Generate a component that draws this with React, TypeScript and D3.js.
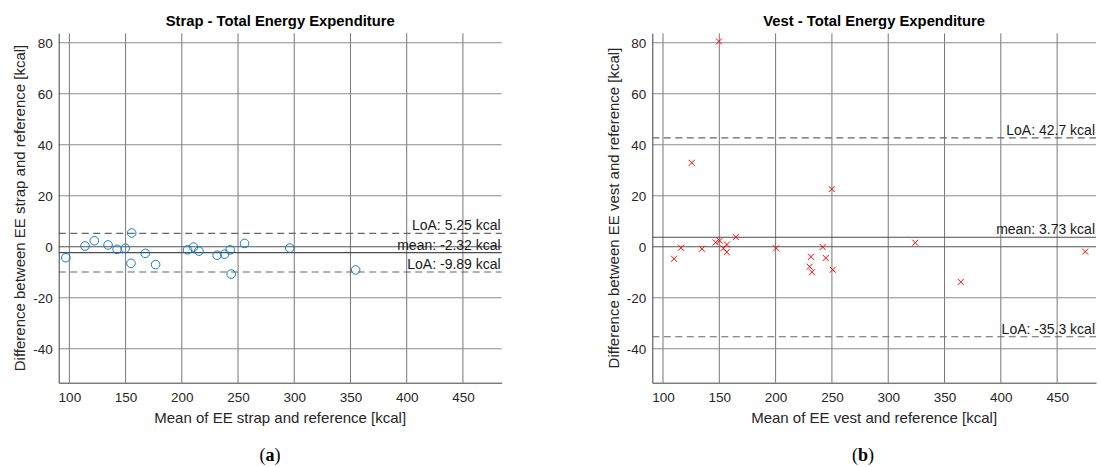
import React, { useEffect, useRef } from "react";
import * as d3 from "d3";

// mean of the two methods (x) and their difference (y)
const strapMean = [96.8, 113.9, 122.2, 134.4, 142.4, 149.7, 155.4, 154.8, 167.5, 176.7, 205.1, 210.4, 215.2, 231.4, 238.0, 243.0, 243.9, 255.8, 296.0, 354.6];
const strapDiff = [-4.3, 0.3, 2.35, 0.7, -1.0, -0.6, 5.4, -6.5, -2.6, -7.0, -1.2, -0.1, -1.7, -3.3, -2.9, -1.2, -10.7, 1.3, -0.5, -9.1];

const vestMean = [109.8, 116.0, 125.5, 134.6, 146.8, 150.3, 149.7, 153.6, 156.8, 156.6, 164.6, 200.4, 231.4, 230.3, 232.3, 241.8, 244.5, 249.8, 250.7, 324.0, 364.4, 474.9];
const vestDiff = [-4.7, -0.4, 32.9, -0.8, 1.7, 2.35, 80.5, -0.6, 0.9, -2.1, 3.8, -0.6, -3.9, -7.8, -10.0, -0.1, -4.4, 22.6, -9.0, 1.6, -13.8, -1.9];

const strapBias = -2.32;
const strapLoA = [5.25, -9.89];
const vestBias = 3.73;
const vestLoA = [42.7, -35.3];

const xTicks = [100, 150, 200, 250, 300, 350, 400, 450];
const yTicks = [-40, -20, 0, 20, 40, 60, 80];

const titles = ["Strap - Total Energy Expenditure", "Vest - Total Energy Expenditure"];
const xLabels = ["Mean of EE strap and reference [kcal]", "Mean of EE vest and reference [kcal]"];
const yLabels = ["Difference between EE strap and reference [kcal]", "Difference between EE vest and reference [kcal]"];

const FONT = "'Liberation Sans', Arial, Helvetica, sans-serif";
const TEXT = "#262626";

function drawPanel(
    root: d3.Selection<SVGSVGElement, unknown, null, undefined>,
    left: number,
    right: number,
    means: number[],
    diffs: number[],
    bias: number,
    loa: number[],
    idx: number,
    marker: "circle" | "cross"
) {
    const top = 33.3;
    const bottom = 382.7;

    const xScale = d3.scaleLinear().domain([90.5, 484.5]).range([left, right]);
    const yScale = d3.scaleLinear().domain([-53.3, 83.7]).range([bottom, top]);

    const g = root.append("g");

    // grid
    g.selectAll(".vgrid")
        .data(xTicks)
        .enter()
        .append("line")
        .attr("x1", d => xScale(d))
        .attr("x2", d => xScale(d))
        .attr("y1", top)
        .attr("y2", bottom)
        .attr("stroke", "#777")
        .attr("stroke-width", 1);
    g.selectAll(".hgrid")
        .data(yTicks)
        .enter()
        .append("line")
        .attr("x1", left)
        .attr("x2", right)
        .attr("y1", d => yScale(d))
        .attr("y2", d => yScale(d))
        .attr("stroke", d => (d === 0 ? "#555" : "#8c8c8c"))
        .attr("stroke-width", 1);

    // axes (left + bottom only)
    const yAxis = d3.axisLeft(yScale).tickValues(yTicks).tickSize(0).tickPadding(6).tickFormat(d => String(d));
    const xAxis = d3.axisBottom(xScale).tickValues(xTicks).tickSize(0).tickPadding(10).tickFormat(d => String(d));

    const ya = g.append("g").attr("transform", "translate(" + left + ",0)").call(yAxis as any);
    const xa = g.append("g").attr("transform", "translate(0," + bottom + ")").call(xAxis as any);
    [ya, xa].forEach(a => {
        a.select(".domain").attr("stroke", "#404040").attr("stroke-width", 1);
        a.selectAll("text").attr("fill", TEXT).attr("font-family", FONT).attr("font-size", 13.5);
    });

    // bias and limits of agreement
    g.append("line")
        .attr("x1", left)
        .attr("x2", right)
        .attr("y1", yScale(bias))
        .attr("y2", yScale(bias))
        .attr("stroke", "#4d4d4d")
        .attr("stroke-width", 1.2);
    g.selectAll(".loa")
        .data(loa)
        .enter()
        .append("line")
        .attr("x1", left)
        .attr("x2", right)
        .attr("y1", d => yScale(d))
        .attr("y2", d => yScale(d))
        .attr("stroke", "#666")
        .attr("stroke-width", 1.1)
        .attr("stroke-dasharray", "7,4.5");

    const labels = [
        { v: loa[0], t: "LoA: " + loa[0] + " kcal" },
        { v: bias, t: "mean: " + bias + " kcal" },
        { v: loa[1], t: "LoA: " + loa[1] + " kcal" },
    ];
    g.selectAll(".lbl")
        .data(labels)
        .enter()
        .append("text")
        .attr("x", right - 1)
        .attr("y", d => yScale(d.v) - 3)
        .attr("text-anchor", "end")
        .attr("font-family", FONT)
        .attr("font-size", 14)
        .attr("fill", "#1a1a1a")
        .text(d => d.t);

    // points
    const pts = means.map((m, i) => ({ x: m, y: diffs[i] }));
    if (marker === "circle") {
        g.selectAll(".dot")
            .data(pts)
            .enter()
            .append("circle")
            .attr("cx", d => xScale(d.x))
            .attr("cy", d => yScale(d.y))
            .attr("r", 4.3)
            .attr("fill", "none")
            .attr("stroke", "#0072BD")
            .attr("stroke-width", 0.9);
    } else {
        const s = 3;
        g.selectAll(".cross")
            .data(pts)
            .enter()
            .append("path")
            .attr("d", d => {
                const cx = xScale(d.x);
                const cy = yScale(d.y);
                return `M${cx - s},${cy - s}L${cx + s},${cy + s}M${cx - s},${cy + s}L${cx + s},${cy - s}`;
            })
            .attr("fill", "none")
            .attr("stroke", "#ff0000")
            .attr("stroke-width", 1);
    }

    // titles and axis labels
    const cx = (left + right) / 2;
    g.append("text")
        .attr("x", cx)
        .attr("y", 26)
        .attr("text-anchor", "middle")
        .attr("font-family", FONT)
        .attr("font-weight", "bold")
        .attr("font-size", 14.8)
        .attr("fill", "#000")
        .text(titles[idx]);
    g.append("text")
        .attr("x", cx)
        .attr("y", 423)
        .attr("text-anchor", "middle")
        .attr("font-family", FONT)
        .attr("font-size", 15)
        .attr("fill", TEXT)
        .text(xLabels[idx]);
    g.append("text")
        .attr("transform", "translate(" + (left - 33.5) + "," + (top + bottom) / 2 + ") rotate(-90)")
        .attr("text-anchor", "middle")
        .attr("font-family", FONT)
        .attr("font-size", 15)
        .attr("fill", TEXT)
        .text(yLabels[idx]);
}

export default function App() {
    const ref = useRef<SVGSVGElement>(null);

    useEffect(() => {
        if (!ref.current) return;
        const svg = d3.select(ref.current);
        svg.selectAll("*").remove();

        drawPanel(svg, 58.7, 501.7, strapMean, strapDiff, strapBias, strapLoA, 0, "circle");
        drawPanel(svg, 652.3, 1096, vestMean, vestDiff, vestBias, vestLoA, 1, "cross");

        // sub-figure captions
        const caps = [
            { x: 270, t: "a" },
            { x: 863, t: "b" },
        ];
        caps.forEach(c => {
            const tx = svg
                .append("text")
                .attr("x", c.x)
                .attr("y", 461)
                .attr("text-anchor", "middle")
                .attr("font-family", "'Liberation Serif', 'DejaVu Serif', serif")
                .attr("font-size", 18)
                .attr("fill", "#000");
            tx.append("tspan").text("(");
            tx.append("tspan").attr("font-weight", "bold").text(c.t);
            tx.append("tspan").text(")");
        });
    }, []);

    return (
        <svg
            ref={ref}
            width={1099}
            height={467}
            style={{ position: "absolute", left: 0, top: 0, background: "#fff" }}
        />
    );
}
